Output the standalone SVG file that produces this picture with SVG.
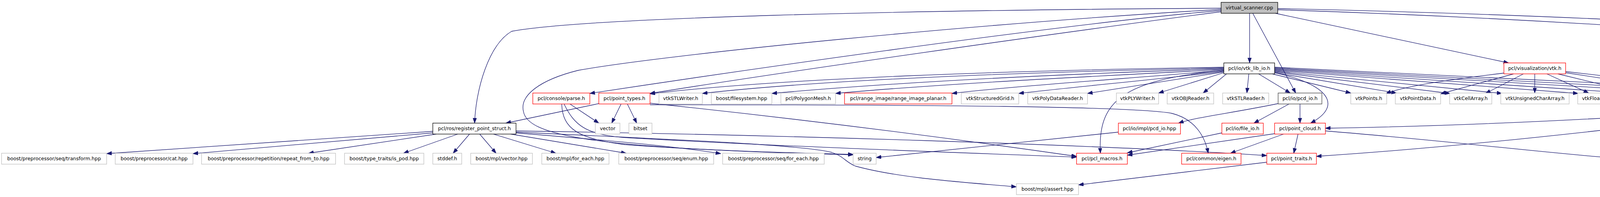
<svg xmlns="http://www.w3.org/2000/svg" width="5171" height="504" viewBox="0 0 5171 504">
<style>
.n rect{fill:#ffffff;stroke:#bfbfbf;stroke-width:1.3}
.n.red rect{stroke:#ff0000}
.n.blk rect{stroke:#000000}
.n.root rect{fill:#bfbfbf;stroke:#000000}
.n text{font-family:"DejaVu Sans","Liberation Sans",sans-serif;font-size:12.5px;fill:#000000;text-anchor:middle}
#edges path{fill:none;stroke:#191970;stroke-width:1.3;marker-end:url(#ah)}
</style>
<defs>
<marker id="ah" markerUnits="userSpaceOnUse" markerWidth="14" markerHeight="10" refX="13" refY="4.65" orient="auto">
<path d="M0,0 L13,4.65 L0,9.3 z" fill="#191970" stroke="#191970" stroke-width="1"/>
</marker>
</defs>
<rect x="0" y="0" width="5171" height="504" fill="#ffffff"/>
<g id="edges">
<path d="M3199,34 L3199,161"/>
<path d="M3207,34 L3317,238"/>
<path d="M3265,34 L3862,161"/>
<path d="M3271,25 Q3900,45 4534,93"/>
<path d="M3271,22 Q4100,40 4715,84"/>
<path d="M3126,21 C2300,26 1500,45 1310,80 C1250,115 1218,230 1215,315"/>
<path d="M3126,24 C2500,60 1700,140 1480,180 C1380,205 1330,245 1340,285 C1350,345 1500,380 2184,396"/>
<path d="M3126,27 C2700,62 1800,195 1510,239"/>
<path d="M3126,30 C2700,85 2000,185 1664,239"/>
<path d="M3133,172 C2600,180 2000,200 1664,240"/>
<path d="M3133,174 C2600,185 2100,205 1798,239"/>
<path d="M3133,176 C2700,190 2300,210 1976,239"/>
<path d="M3133,178 C2800,195 2400,215 2139,239"/>
<path d="M3133,180 C2900,200 2600,220 2437,239"/>
<path d="M3133,182 C3000,200 2750,222 2608,239"/>
<path d="M3133,184 L2784,239"/>
<path d="M3133,186 L2966,238"/>
<path d="M3140,189 L3080,238"/>
<path d="M3133,180 C2870,205 2810,260 2817,392"/>
<path d="M3197,189 L3192,238"/>
<path d="M3222,189 L3303,238"/>
<path d="M3263,186 C3400,215 3440,270 3355,315"/>
<path d="M3257,189 L3458,238"/>
<path d="M3263,186 L3575,238"/>
<path d="M3263,184 L3712,239"/>
<path d="M3263,182 L3845,239"/>
<path d="M3263,180 L4040,239"/>
<path d="M3263,178 L4183,239"/>
<path d="M3263,176 L4346,239"/>
<path d="M3263,174 L4486,239"/>
<path d="M3263,172 L4646,239"/>
<path d="M3850,187 C3700,205 3600,220 3548,239"/>
<path d="M3875,189 L3688,240"/>
<path d="M3900,189 L3803,239"/>
<path d="M3929,189 L3929,238"/>
<path d="M3960,189 L4067,238"/>
<path d="M3988,189 L4195,239"/>
<path d="M4008,186 L4355,239"/>
<path d="M4008,183 L4495,239"/>
<path d="M3328,266 L3328,315"/>
<path d="M3300,266 L3210,315"/>
<path d="M3272,265 C3150,290 3060,300 3017,315"/>
<path d="M2863,338 L2243,403"/>
<path d="M3128,340 L2886,391"/>
<path d="M3323,343 L3312,392"/>
<path d="M3286,343 L3150,392"/>
<path d="M3263,342 L2886,397"/>
<path d="M3393,335 C3700,360 3900,385 4113,403"/>
<path d="M4644,266 C4300,295 3800,322 3393,328"/>
<path d="M4644,267 C4300,312 3800,372 3370,400"/>
<path d="M4597,111 L4540,161"/>
<path d="M4630,111 L4687,161"/>
<path d="M4690,111 L4947,161"/>
<path d="M4688,111 C4780,130 4835,165 4835,215 C4835,300 4600,390 4163,405"/>
<path d="M4559,189 L4680,238"/>
<path d="M1533,265 L1295,315"/>
<path d="M1590,266 L1566,315"/>
<path d="M1606,266 L1630,315"/>
<path d="M1664,264 Q2200,320 2756,400"/>
<path d="M1664,268 C2400,268 2900,272 3000,290 C3060,305 3085,350 3093,392"/>
<path d="M1459,266 L1533,315"/>
<path d="M1438,266 C1440,330 1480,355 1600,370 C1800,385 2000,390 2184,395"/>
<path d="M1444,266 C1470,320 1500,345 1600,352 C2000,375 2500,392 2756,402"/>
<path d="M1108,336 L273,393"/>
<path d="M1108,340 L494,393"/>
<path d="M1117,343 L790,392"/>
<path d="M1172,343 L1033,392"/>
<path d="M1202,343 L1160,392"/>
<path d="M1228,343 L1270,392"/>
<path d="M1263,343 L1423,392"/>
<path d="M1307,343 L1603,392"/>
<path d="M1321,340 C1500,355 1700,370 1845,393"/>
<path d="M1321,335 C2000,345 2800,370 3243,398"/>
<path d="M1321,338 C1800,360 2060,372 2130,390 C2160,400 2165,415 2190,425 C2300,455 2450,465 2602,478"/>
<path d="M3243,415 L2761,473"/>
</g>
<g id="root" class="n root"><rect x="3126" y="6" width="145" height="28"/><text x="3198.5" y="24">virtual_scanner.cpp</text></g>
<g id="voxel" class="n blk"><rect x="4534" y="83" width="158" height="28"/><text x="4613" y="101">pcl/filters/voxel_grid.h</text></g>
<g id="random" class="n"><rect x="4715" y="83" width="140" height="28"/><text x="4785" y="101">boost/random.hpp</text></g>
<g id="vtklib" class="n blk"><rect x="3133" y="161" width="130" height="28"/><text x="3198" y="179">pcl/io/vtk_lib_io.h</text></g>
<g id="vis" class="n red"><rect x="3850" y="161" width="158" height="28"/><text x="3929" y="179">pcl/visualization/vtk.h</text></g>
<g id="filter" class="n red"><rect x="4461" y="161" width="123" height="28"/><text x="4522.5" y="179">pcl/filters/filter.h</text></g>
<g id="umap" class="n"><rect x="4608" y="161" width="192" height="28"/><text x="4704" y="179">boost/unordered_map.hpp</text></g>
<g id="atkey" class="n"><rect x="4874" y="161" width="291" height="28"/><text x="5019.5" y="179">boost/fusion/sequence/intrinsic/at_key.hpp</text></g>
<g id="parse" class="n red"><rect x="1364" y="238" width="146" height="28"/><text x="1437" y="256">pcl/console/parse.h</text></g>
<g id="ptypes" class="n red"><rect x="1533" y="238" width="131" height="28"/><text x="1598.5" y="256">pcl/point_types.h</text></g>
<g id="stlw" class="n"><rect x="1687" y="238" width="111" height="28"/><text x="1742.5" y="256">vtkSTLWriter.h</text></g>
<g id="fs" class="n"><rect x="1821" y="238" width="155" height="28"/><text x="1898.5" y="256">boost/filesystem.hpp</text></g>
<g id="mesh" class="n"><rect x="1999" y="238" width="140" height="28"/><text x="2069" y="256">pcl/PolygonMesh.h</text></g>
<g id="rip" class="n red"><rect x="2162" y="238" width="275" height="28"/><text x="2299.5" y="256">pcl/range_image/range_image_planar.h</text></g>
<g id="sgrid" class="n"><rect x="2461" y="238" width="147" height="28"/><text x="2534.5" y="256">vtkStructuredGrid.h</text></g>
<g id="pdr" class="n"><rect x="2631" y="238" width="153" height="28"/><text x="2707.5" y="256">vtkPolyDataReader.h</text></g>
<g id="plyw" class="n"><rect x="2858" y="238" width="108" height="28"/><text x="2912" y="256">vtkPLYWriter.h</text></g>
<g id="objr" class="n"><rect x="2988" y="238" width="119" height="28"/><text x="3047.5" y="256">vtkOBJReader.h</text></g>
<g id="stlr" class="n"><rect x="3130" y="238" width="118" height="28"/><text x="3189" y="256">vtkSTLReader.h</text></g>
<g id="pcdio" class="n"><rect x="3272" y="238" width="112" height="28" style="stroke:#404040"/><text x="3328" y="256">pcl/io/pcd_io.h</text></g>
<g id="pts" class="n"><rect x="3458" y="238" width="92" height="28"/><text x="3504" y="256">vtkPoints.h</text></g>
<g id="ptd" class="n"><rect x="3572" y="238" width="116" height="28"/><text x="3630" y="256">vtkPointData.h</text></g>
<g id="cell" class="n"><rect x="3711" y="238" width="108" height="28"/><text x="3765" y="256">vtkCellArray.h</text></g>
<g id="uca" class="n"><rect x="3842" y="238" width="175" height="28"/><text x="3929.5" y="256">vtkUnsignedCharArray.h</text></g>
<g id="fa" class="n"><rect x="4039" y="238" width="116" height="28"/><text x="4097" y="256">vtkFloatArray.h</text></g>
<g id="pdw" class="n"><rect x="4178" y="238" width="145" height="28"/><text x="4250.5" y="256">vtkPolyDataWriter.h</text></g>
<g id="plyr" class="n"><rect x="4346" y="238" width="116" height="28"/><text x="4404" y="256">vtkPLYReader.h</text></g>
<g id="sp" class="n"><rect x="4484" y="238" width="138" height="28"/><text x="4553" y="256">vtkSmartPointer.h</text></g>
<g id="conv" class="n red"><rect x="4644" y="238" width="157" height="28"/><text x="4722.5" y="256">pcl/ros/conversions.h</text></g>
<g id="reg" class="n blk"><rect x="1108" y="315" width="213" height="28"/><text x="1214.5" y="333">pcl/ros/register_point_struct.h</text></g>
<g id="vector" class="n"><rect x="1524" y="315" width="63" height="28"/><text x="1555.5" y="333">vector</text></g>
<g id="bitset" class="n"><rect x="1610" y="315" width="59" height="28"/><text x="1639.5" y="333">bitset</text></g>
<g id="pcdhpp" class="n red"><rect x="2863" y="315" width="159" height="28"/><text x="2942.5" y="333">pcl/io/impl/pcd_io.hpp</text></g>
<g id="fileio" class="n red"><rect x="3128" y="315" width="106" height="28"/><text x="3181" y="333">pcl/io/file_io.h</text></g>
<g id="pcloud" class="n red"><rect x="3263" y="315" width="130" height="28"/><text x="3328" y="333">pcl/point_cloud.h</text></g>
<g id="transform" class="n"><rect x="4" y="392" width="269" height="28"/><text x="138.5" y="410">boost/preprocessor/seq/transform.hpp</text></g>
<g id="cat" class="n"><rect x="295" y="392" width="199" height="28"/><text x="394.5" y="410">boost/preprocessor/cat.hpp</text></g>
<g id="repeat" class="n"><rect x="516" y="392" width="343" height="28"/><text x="687.5" y="410">boost/preprocessor/repetition/repeat_from_to.hpp</text></g>
<g id="ispod" class="n"><rect x="882" y="392" width="203" height="28"/><text x="983.5" y="410">boost/type_traits/is_pod.hpp</text></g>
<g id="stddef" class="n"><rect x="1108" y="392" width="74" height="28"/><text x="1145" y="410">stddef.h</text></g>
<g id="mplvec" class="n"><rect x="1205" y="392" width="158" height="28"/><text x="1284" y="410">boost/mpl/vector.hpp</text></g>
<g id="mplfe" class="n"><rect x="1387" y="392" width="172" height="28"/><text x="1473" y="410">boost/mpl/for_each.hpp</text></g>
<g id="enum" class="n"><rect x="1584" y="392" width="243" height="28"/><text x="1705.5" y="410">boost/preprocessor/seq/enum.hpp</text></g>
<g id="seqfe" class="n"><rect x="1850" y="392" width="260" height="28"/><text x="1980" y="410">boost/preprocessor/seq/for_each.hpp</text></g>
<g id="string" class="n"><rect x="2184" y="392" width="59" height="28"/><text x="2213.5" y="410">string</text></g>
<g id="macros" class="n red"><rect x="2756" y="392" width="130" height="28"/><text x="2821" y="410">pcl/pcl_macros.h</text></g>
<g id="eigen" class="n red"><rect x="3025" y="392" width="152" height="28"/><text x="3101" y="410">pcl/common/eigen.h</text></g>
<g id="ptraits" class="n red"><rect x="3243" y="392" width="127" height="28"/><text x="3306.5" y="410">pcl/point_traits.h</text></g>
<g id="map" class="n"><rect x="4113" y="392" width="50" height="28"/><text x="4138" y="410">map</text></g>
<g id="assert" class="n"><rect x="2602" y="470" width="159" height="28"/><text x="2681.5" y="488">boost/mpl/assert.hpp</text></g>
</svg>
